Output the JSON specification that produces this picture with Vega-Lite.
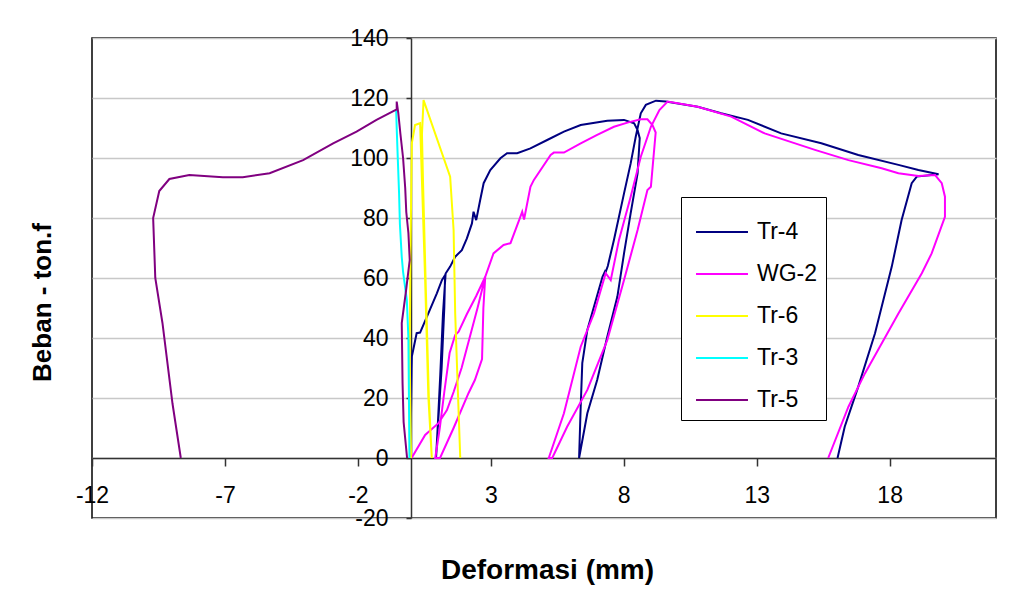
{
  "$schema": "https://vega.github.io/schema/vega-lite/v6.json",
  "width": 904,
  "height": 480,
  "autosize": {"type": "none"},
  "padding": {"left": 92, "top": 38, "right": 28, "bottom": 72},
  "background": "#ffffff",
  "config": {
    "view": {"stroke": "#000000", "strokeWidth": 1.5},
    "font": "Liberation Sans"
  },
  "data": {
    "values": [
      {"s": "Tr-4", "i": 0, "x": 0, "y": 0},
      {"s": "Tr-4", "i": 1, "x": 0, "y": 15},
      {"s": "Tr-4", "i": 2, "x": 0.02, "y": 30},
      {"s": "Tr-4", "i": 3, "x": 0.03, "y": 33.8},
      {"s": "Tr-4", "i": 4, "x": 0.21, "y": 41.6},
      {"s": "Tr-4", "i": 5, "x": 0.34, "y": 41.8},
      {"s": "Tr-4", "i": 6, "x": 0.65, "y": 48.2},
      {"s": "Tr-4", "i": 7, "x": 0.97, "y": 54.9},
      {"s": "Tr-4", "i": 8, "x": 1.16, "y": 59.3},
      {"s": "Tr-4", "i": 9, "x": 1.28, "y": 61},
      {"s": "Tr-4", "i": 10, "x": 1.25, "y": 50},
      {"s": "Tr-4", "i": 11, "x": 1.15, "y": 30},
      {"s": "Tr-4", "i": 12, "x": 1.02, "y": 12},
      {"s": "Tr-4", "i": 13, "x": 0.94, "y": 0},
      {"s": "Tr-4", "i": 14, "x": 1.0, "y": 10},
      {"s": "Tr-4", "i": 15, "x": 1.1, "y": 28},
      {"s": "Tr-4", "i": 16, "x": 1.2, "y": 48},
      {"s": "Tr-4", "i": 17, "x": 1.3, "y": 61.5},
      {"s": "Tr-4", "i": 18, "x": 1.47, "y": 63.8},
      {"s": "Tr-4", "i": 19, "x": 1.66, "y": 67.1},
      {"s": "Tr-4", "i": 20, "x": 1.91, "y": 69.3},
      {"s": "Tr-4", "i": 21, "x": 2.1, "y": 73.2},
      {"s": "Tr-4", "i": 22, "x": 2.29, "y": 78.2},
      {"s": "Tr-4", "i": 23, "x": 2.35, "y": 82.1},
      {"s": "Tr-4", "i": 24, "x": 2.45, "y": 79.3},
      {"s": "Tr-4", "i": 25, "x": 2.6, "y": 86},
      {"s": "Tr-4", "i": 26, "x": 2.73, "y": 91.6},
      {"s": "Tr-4", "i": 27, "x": 2.98, "y": 96},
      {"s": "Tr-4", "i": 28, "x": 3.36, "y": 99.9},
      {"s": "Tr-4", "i": 29, "x": 3.61, "y": 101.6},
      {"s": "Tr-4", "i": 30, "x": 3.99, "y": 101.6},
      {"s": "Tr-4", "i": 31, "x": 4.49, "y": 103.2},
      {"s": "Tr-4", "i": 32, "x": 5.12, "y": 106},
      {"s": "Tr-4", "i": 33, "x": 5.75, "y": 108.8},
      {"s": "Tr-4", "i": 34, "x": 6.38, "y": 111},
      {"s": "Tr-4", "i": 35, "x": 7.38, "y": 112.4},
      {"s": "Tr-4", "i": 36, "x": 8.01, "y": 112.7},
      {"s": "Tr-4", "i": 37, "x": 8.39, "y": 111.6},
      {"s": "Tr-4", "i": 38, "x": 8.52, "y": 109.3},
      {"s": "Tr-4", "i": 39, "x": 8.6, "y": 106.6},
      {"s": "Tr-4", "i": 40, "x": 8.52, "y": 94.9},
      {"s": "Tr-4", "i": 41, "x": 8.26, "y": 81.6},
      {"s": "Tr-4", "i": 42, "x": 8.01, "y": 68.2},
      {"s": "Tr-4", "i": 43, "x": 7.76, "y": 53.8},
      {"s": "Tr-4", "i": 44, "x": 7.38, "y": 40.4},
      {"s": "Tr-4", "i": 45, "x": 7.0, "y": 26},
      {"s": "Tr-4", "i": 46, "x": 6.63, "y": 14.9},
      {"s": "Tr-4", "i": 47, "x": 6.32, "y": 0},
      {"s": "Tr-4", "i": 48, "x": 6.38, "y": 17.1},
      {"s": "Tr-4", "i": 49, "x": 6.44, "y": 31.6},
      {"s": "Tr-4", "i": 50, "x": 6.63, "y": 42.7},
      {"s": "Tr-4", "i": 51, "x": 7.2, "y": 60.4},
      {"s": "Tr-4", "i": 52, "x": 7.32, "y": 62.7},
      {"s": "Tr-4", "i": 53, "x": 7.28, "y": 61},
      {"s": "Tr-4", "i": 54, "x": 7.4, "y": 64},
      {"s": "Tr-4", "i": 55, "x": 7.63, "y": 72.7},
      {"s": "Tr-4", "i": 56, "x": 8.01, "y": 88.2},
      {"s": "Tr-4", "i": 57, "x": 8.26, "y": 98.2},
      {"s": "Tr-4", "i": 58, "x": 8.45, "y": 107.1},
      {"s": "Tr-4", "i": 59, "x": 8.64, "y": 114.9},
      {"s": "Tr-4", "i": 60, "x": 8.83, "y": 117.7},
      {"s": "Tr-4", "i": 61, "x": 9.21, "y": 119.1},
      {"s": "Tr-4", "i": 62, "x": 9.58, "y": 118.8},
      {"s": "Tr-4", "i": 63, "x": 10.78, "y": 117.1},
      {"s": "Tr-4", "i": 64, "x": 11.66, "y": 114.9},
      {"s": "Tr-4", "i": 65, "x": 12.67, "y": 112.7},
      {"s": "Tr-4", "i": 66, "x": 13.92, "y": 108.2},
      {"s": "Tr-4", "i": 67, "x": 15.43, "y": 104.9},
      {"s": "Tr-4", "i": 68, "x": 16.82, "y": 101},
      {"s": "Tr-4", "i": 69, "x": 18.33, "y": 97.7},
      {"s": "Tr-4", "i": 70, "x": 19.08, "y": 96},
      {"s": "Tr-4", "i": 71, "x": 19.84, "y": 94.6},
      {"s": "Tr-4", "i": 72, "x": 19.02, "y": 93.8},
      {"s": "Tr-4", "i": 73, "x": 18.83, "y": 91.6},
      {"s": "Tr-4", "i": 74, "x": 18.45, "y": 79.3},
      {"s": "Tr-4", "i": 75, "x": 18.08, "y": 63.8},
      {"s": "Tr-4", "i": 76, "x": 17.45, "y": 41.6},
      {"s": "Tr-4", "i": 77, "x": 16.82, "y": 23.8},
      {"s": "Tr-4", "i": 78, "x": 16.31, "y": 10.4},
      {"s": "Tr-4", "i": 79, "x": 16.04, "y": 0},

      {"s": "WG-2", "i": 0, "x": 0.02, "y": 0},
      {"s": "WG-2", "i": 1, "x": 0.53, "y": 7.7},
      {"s": "WG-2", "i": 2, "x": 1.03, "y": 11.6},
      {"s": "WG-2", "i": 3, "x": 1.35, "y": 16},
      {"s": "WG-2", "i": 4, "x": 1.6, "y": 22},
      {"s": "WG-2", "i": 5, "x": 1.9, "y": 30},
      {"s": "WG-2", "i": 6, "x": 2.2, "y": 40},
      {"s": "WG-2", "i": 7, "x": 2.5, "y": 50},
      {"s": "WG-2", "i": 8, "x": 2.79, "y": 60.4},
      {"s": "WG-2", "i": 9, "x": 2.72, "y": 50},
      {"s": "WG-2", "i": 10, "x": 2.67, "y": 33},
      {"s": "WG-2", "i": 11, "x": 2.4, "y": 26},
      {"s": "WG-2", "i": 12, "x": 2.16, "y": 21.6},
      {"s": "WG-2", "i": 13, "x": 1.6, "y": 10},
      {"s": "WG-2", "i": 14, "x": 1.09, "y": 0},
      {"s": "WG-2", "i": 15, "x": 0.91, "y": 0},
      {"s": "WG-2", "i": 16, "x": 1.08, "y": 10},
      {"s": "WG-2", "i": 17, "x": 1.25, "y": 22},
      {"s": "WG-2", "i": 18, "x": 1.45, "y": 35},
      {"s": "WG-2", "i": 19, "x": 1.66, "y": 41},
      {"s": "WG-2", "i": 20, "x": 1.79, "y": 42.1},
      {"s": "WG-2", "i": 21, "x": 2.1, "y": 48},
      {"s": "WG-2", "i": 22, "x": 2.45, "y": 54},
      {"s": "WG-2", "i": 23, "x": 2.79, "y": 60.4},
      {"s": "WG-2", "i": 24, "x": 3.1, "y": 68.2},
      {"s": "WG-2", "i": 25, "x": 3.48, "y": 71},
      {"s": "WG-2", "i": 26, "x": 3.74, "y": 71.6},
      {"s": "WG-2", "i": 27, "x": 4.11, "y": 80.4},
      {"s": "WG-2", "i": 28, "x": 4.18, "y": 82.1},
      {"s": "WG-2", "i": 29, "x": 4.25, "y": 79.5},
      {"s": "WG-2", "i": 30, "x": 4.49, "y": 90.4},
      {"s": "WG-2", "i": 31, "x": 4.62, "y": 92.7},
      {"s": "WG-2", "i": 32, "x": 5.25, "y": 101},
      {"s": "WG-2", "i": 33, "x": 5.37, "y": 101.8},
      {"s": "WG-2", "i": 34, "x": 5.75, "y": 101.8},
      {"s": "WG-2", "i": 35, "x": 6.38, "y": 104.9},
      {"s": "WG-2", "i": 36, "x": 7.0, "y": 107.7},
      {"s": "WG-2", "i": 37, "x": 7.63, "y": 110.4},
      {"s": "WG-2", "i": 38, "x": 8.14, "y": 111.8},
      {"s": "WG-2", "i": 39, "x": 8.64, "y": 112.9},
      {"s": "WG-2", "i": 40, "x": 8.89, "y": 112.9},
      {"s": "WG-2", "i": 41, "x": 9.08, "y": 111},
      {"s": "WG-2", "i": 42, "x": 9.2, "y": 108.5},
      {"s": "WG-2", "i": 43, "x": 9.02, "y": 90.4},
      {"s": "WG-2", "i": 44, "x": 8.89, "y": 89.3},
      {"s": "WG-2", "i": 45, "x": 8.52, "y": 76},
      {"s": "WG-2", "i": 46, "x": 8.01, "y": 59.3},
      {"s": "WG-2", "i": 47, "x": 7.38, "y": 39.3},
      {"s": "WG-2", "i": 48, "x": 6.63, "y": 22.7},
      {"s": "WG-2", "i": 49, "x": 5.87, "y": 10.4},
      {"s": "WG-2", "i": 50, "x": 5.31, "y": 0},
      {"s": "WG-2", "i": 51, "x": 5.18, "y": 0},
      {"s": "WG-2", "i": 52, "x": 5.75, "y": 14.9},
      {"s": "WG-2", "i": 53, "x": 6.38, "y": 37.1},
      {"s": "WG-2", "i": 54, "x": 6.88, "y": 48.2},
      {"s": "WG-2", "i": 55, "x": 7.32, "y": 61.6},
      {"s": "WG-2", "i": 56, "x": 7.51, "y": 59.3},
      {"s": "WG-2", "i": 57, "x": 7.82, "y": 72.7},
      {"s": "WG-2", "i": 58, "x": 8.26, "y": 87.1},
      {"s": "WG-2", "i": 59, "x": 8.64, "y": 100.4},
      {"s": "WG-2", "i": 60, "x": 9.02, "y": 110.4},
      {"s": "WG-2", "i": 61, "x": 9.34, "y": 116},
      {"s": "WG-2", "i": 62, "x": 9.65, "y": 118.8},
      {"s": "WG-2", "i": 63, "x": 10.78, "y": 117.1},
      {"s": "WG-2", "i": 64, "x": 12.04, "y": 113.8},
      {"s": "WG-2", "i": 65, "x": 13.3, "y": 108.2},
      {"s": "WG-2", "i": 66, "x": 15.19, "y": 102.7},
      {"s": "WG-2", "i": 67, "x": 16.45, "y": 99.3},
      {"s": "WG-2", "i": 68, "x": 17.7, "y": 96.6},
      {"s": "WG-2", "i": 69, "x": 18.33, "y": 94.9},
      {"s": "WG-2", "i": 70, "x": 19.08, "y": 94},
      {"s": "WG-2", "i": 71, "x": 19.71, "y": 94.3},
      {"s": "WG-2", "i": 72, "x": 19.96, "y": 91.6},
      {"s": "WG-2", "i": 73, "x": 20.08, "y": 87.1},
      {"s": "WG-2", "i": 74, "x": 20.08, "y": 80.4},
      {"s": "WG-2", "i": 75, "x": 19.58, "y": 68.2},
      {"s": "WG-2", "i": 76, "x": 19.21, "y": 61.6},
      {"s": "WG-2", "i": 77, "x": 18.33, "y": 48.2},
      {"s": "WG-2", "i": 78, "x": 17.07, "y": 28.2},
      {"s": "WG-2", "i": 79, "x": 16.45, "y": 17.1},
      {"s": "WG-2", "i": 80, "x": 15.69, "y": 0},

      {"s": "Tr-6", "i": 0, "x": 0, "y": 0},
      {"s": "Tr-6", "i": 1, "x": -0.05, "y": 35},
      {"s": "Tr-6", "i": 2, "x": -0.03, "y": 60},
      {"s": "Tr-6", "i": 3, "x": 0.0, "y": 85},
      {"s": "Tr-6", "i": 4, "x": 0.03, "y": 105},
      {"s": "Tr-6", "i": 5, "x": 0.15, "y": 111},
      {"s": "Tr-6", "i": 6, "x": 0.34, "y": 111.6},
      {"s": "Tr-6", "i": 7, "x": 0.4, "y": 94.9},
      {"s": "Tr-6", "i": 8, "x": 0.53, "y": 59.3},
      {"s": "Tr-6", "i": 9, "x": 0.65, "y": 20.4},
      {"s": "Tr-6", "i": 10, "x": 0.78, "y": 0},
      {"s": "Tr-6", "i": 11, "x": 0.67, "y": 20},
      {"s": "Tr-6", "i": 12, "x": 0.56, "y": 55},
      {"s": "Tr-6", "i": 13, "x": 0.45, "y": 92},
      {"s": "Tr-6", "i": 14, "x": 0.41, "y": 108},
      {"s": "Tr-6", "i": 15, "x": 0.47, "y": 119.3},
      {"s": "Tr-6", "i": 16, "x": 1.47, "y": 93.8},
      {"s": "Tr-6", "i": 17, "x": 1.6, "y": 76},
      {"s": "Tr-6", "i": 18, "x": 1.66, "y": 48.2},
      {"s": "Tr-6", "i": 19, "x": 1.75, "y": 25},
      {"s": "Tr-6", "i": 20, "x": 1.85, "y": 0},

      {"s": "Tr-3", "i": 0, "x": -0.06, "y": 0},
      {"s": "Tr-3", "i": 1, "x": -0.08, "y": 20},
      {"s": "Tr-3", "i": 2, "x": -0.1, "y": 40},
      {"s": "Tr-3", "i": 3, "x": -0.16, "y": 52.7},
      {"s": "Tr-3", "i": 4, "x": -0.3, "y": 62},
      {"s": "Tr-3", "i": 5, "x": -0.35, "y": 67},
      {"s": "Tr-3", "i": 6, "x": -0.42, "y": 78},
      {"s": "Tr-3", "i": 7, "x": -0.45, "y": 88},
      {"s": "Tr-3", "i": 8, "x": -0.5, "y": 100},
      {"s": "Tr-3", "i": 9, "x": -0.54, "y": 110},
      {"s": "Tr-3", "i": 10, "x": -0.56, "y": 116},

      {"s": "Tr-5", "i": 0, "x": -0.15, "y": 0},
      {"s": "Tr-5", "i": 1, "x": -0.28, "y": 12},
      {"s": "Tr-5", "i": 2, "x": -0.32, "y": 25},
      {"s": "Tr-5", "i": 3, "x": -0.35, "y": 45},
      {"s": "Tr-5", "i": 4, "x": -0.2, "y": 55},
      {"s": "Tr-5", "i": 5, "x": -0.05, "y": 66},
      {"s": "Tr-5", "i": 6, "x": -0.1, "y": 75},
      {"s": "Tr-5", "i": 7, "x": -0.18, "y": 82},
      {"s": "Tr-5", "i": 8, "x": -0.22, "y": 90},
      {"s": "Tr-5", "i": 9, "x": -0.3, "y": 100},
      {"s": "Tr-5", "i": 10, "x": -0.4, "y": 108},
      {"s": "Tr-5", "i": 11, "x": -0.48, "y": 115},
      {"s": "Tr-5", "i": 12, "x": -0.54, "y": 118.8},
      {"s": "Tr-5", "i": 13, "x": -0.54, "y": 116.2},
      {"s": "Tr-5", "i": 14, "x": -1.3, "y": 112.7},
      {"s": "Tr-5", "i": 15, "x": -2.05, "y": 108.8},
      {"s": "Tr-5", "i": 16, "x": -2.93, "y": 104.9},
      {"s": "Tr-5", "i": 17, "x": -4.06, "y": 99.3},
      {"s": "Tr-5", "i": 18, "x": -5.32, "y": 94.9},
      {"s": "Tr-5", "i": 19, "x": -6.33, "y": 93.6},
      {"s": "Tr-5", "i": 20, "x": -7.08, "y": 93.6},
      {"s": "Tr-5", "i": 21, "x": -8.34, "y": 94.3},
      {"s": "Tr-5", "i": 22, "x": -9.09, "y": 93},
      {"s": "Tr-5", "i": 23, "x": -9.47, "y": 89},
      {"s": "Tr-5", "i": 24, "x": -9.7, "y": 80},
      {"s": "Tr-5", "i": 25, "x": -9.62, "y": 60},
      {"s": "Tr-5", "i": 26, "x": -9.35, "y": 45},
      {"s": "Tr-5", "i": 27, "x": -8.97, "y": 18},
      {"s": "Tr-5", "i": 28, "x": -8.66, "y": 0}
    ]
  },
  "mark": {"type": "line", "strokeWidth": 2, "clip": true},
  "encoding": {
    "x": {
      "field": "x",
      "type": "quantitative",
      "scale": {"domain": [-12, 22], "nice": false, "zero": false},
      "axis": {
        "values": [-12, -7, -2, 3, 8, 13, 18],
        "labelExpr": "toString(datum.value)",
        "offset": -60,
        "grid": false,
        "domainColor": "#333333",
        "domainWidth": 1.5,
        "tickColor": "#333333",
        "tickWidth": 1.5,
        "tickSize": 8,
        "labelFont": "Liberation Sans",
        "labelFontSize": 23,
        "labelColor": "#000000",
        "labelPadding": 18,
        "labelFlush": false,
        "labelOverlap": false,
        "labelBound": false,
        "title": "Deformasi (mm)",
        "titleFont": "Liberation Sans",
        "titleFontSize": 28,
        "titleFontWeight": "bold",
        "titleColor": "#000000",
        "titleX": 455,
        "titleY": 120,
        "titleAlign": "center",
        "titleBaseline": "alphabetic"
      }
    },
    "y": {
      "field": "y",
      "type": "quantitative",
      "scale": {"domain": [-20, 140], "nice": false, "zero": false},
      "axis": {
        "values": [-20, 0, 20, 40, 60, 80, 100, 120, 140],
        "labelExpr": "toString(datum.value)",
        "offset": -319,
        "grid": true,
        "gridColor": "#c8c8c8",
        "gridWidth": 1.5,
        "domainColor": "#333333",
        "domainWidth": 1.5,
        "tickColor": "#333333",
        "tickWidth": 1.5,
        "tickSize": 5,
        "labelFont": "Liberation Sans",
        "labelFontSize": 23,
        "labelColor": "#000000",
        "labelPadding": 18,
        "labelFlush": false,
        "labelOverlap": false,
        "labelBound": false,
        "title": "Beban - ton.f",
        "titleFont": "Liberation Sans",
        "titleFontSize": 26,
        "titleFontWeight": "bold",
        "titleColor": "#000000",
        "titleAngle": -90,
        "titleX": -369,
        "titleY": 264,
        "titleAlign": "center",
        "titleBaseline": "middle"
      }
    },
    "color": {
      "field": "s",
      "type": "nominal",
      "sort": ["Tr-4", "WG-2", "Tr-6", "Tr-3", "Tr-5"],
      "scale": {
        "domain": ["Tr-4", "WG-2", "Tr-6", "Tr-3", "Tr-5"],
        "range": ["#000080", "#ff00ff", "#ffff00", "#00ffff", "#800080"]
      },
      "legend": {
        "title": null,
        "orient": "none",
        "legendX": 589,
        "legendY": 159,
        "strokeColor": "#000000",
        "fillColor": "#ffffff",
        "padding": 8,
        "symbolType": "stroke",
        "symbolSize": 2700,
        "symbolStrokeWidth": 2,
        "symbolOffset": 6,
        "labelFont": "Liberation Sans",
        "labelFontSize": 23,
        "labelColor": "#000000",
        "labelOffset": 8,
        "rowPadding": 3
      }
    },
    "order": {"field": "i", "type": "quantitative"}
  }
}
